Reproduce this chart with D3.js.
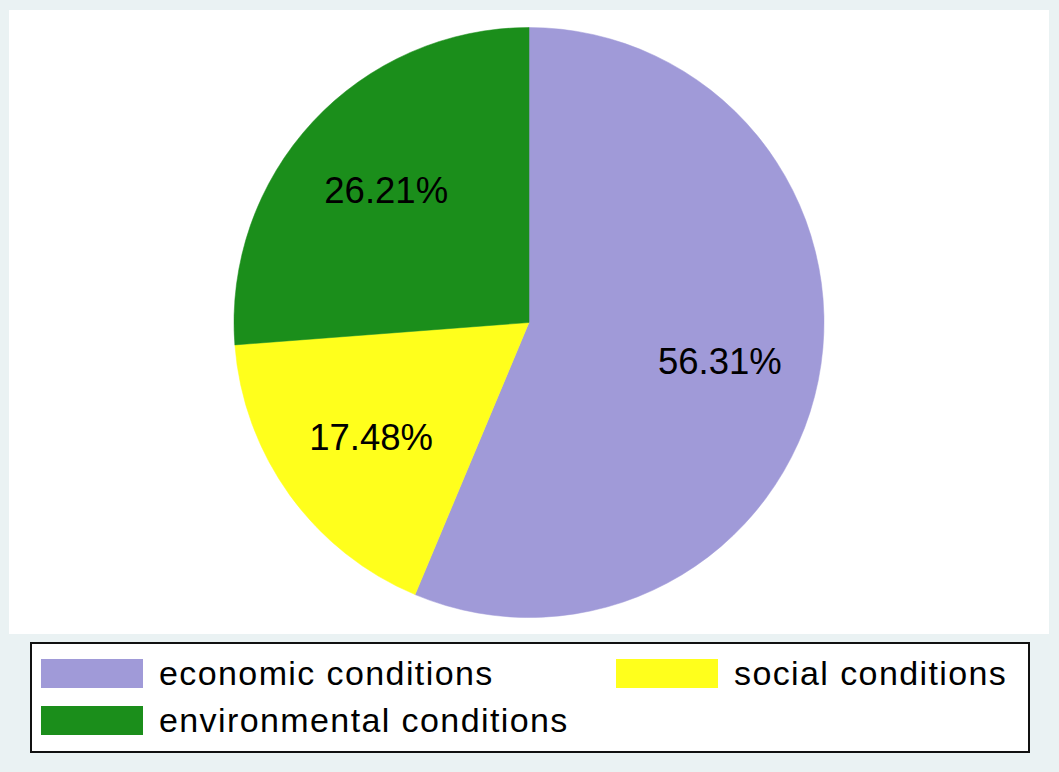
<!DOCTYPE html>
<html>
<head>
<meta charset="utf-8">
<script src="https://cdn.jsdelivr.net/npm/d3@7"></script>
<style>
  html, body { margin: 0; padding: 0; background: #eaf2f3; }
  svg { display: block; }
  text { font-family: "Liberation Sans", Arial, sans-serif; fill: #000; }
</style>
</head>
<body>
<div id="chart"></div>
<script>
var categories = ["economic conditions", "social conditions", "environmental conditions"];
var values = [56.31, 17.48, 26.21];
var colors = ["#a09ad8", "#ffff1c", "#1b8e1b"];

var width = 1059, height = 772;
var svg = d3.select("#chart").append("svg")
    .attr("width", width)
    .attr("height", height);

// background + plot region
svg.append("rect").attr("width", width).attr("height", height).attr("fill", "#eaf2f3");
svg.append("rect")
    .attr("x", 9).attr("y", 10)
    .attr("width", 1040).attr("height", 624)
    .attr("fill", "#ffffff");

var cx = 529, cy = 322.5, r = 295;
var g = svg.append("g").attr("transform", "translate(" + cx + "," + cy + ")");

var pie = d3.pie().sort(null).value(function(d){ return d; });
var arcs = pie(values);
var arc = d3.arc().innerRadius(0).outerRadius(r);
var labelArc = d3.arc().innerRadius(r * 0.66).outerRadius(r * 0.66);

g.selectAll("path.slice")
    .data(arcs)
    .enter().append("path")
    .attr("class", "slice")
    .attr("d", arc)
    .attr("fill", function(d, i){ return colors[i]; })
    .attr("stroke", function(d, i){ return colors[i]; })
    .attr("stroke-width", 0.5);

g.selectAll("text.pct")
    .data(arcs)
    .enter().append("text")
    .attr("class", "pct")
    .attr("transform", function(d){ return "translate(" + labelArc.centroid(d) + ")"; })
    .attr("text-anchor", "middle")
    .attr("dy", "0.36em")
    .style("font-size", "36.5px")
    .text(function(d){ return d3.format(".2f")(d.data) + "%"; });

// legend
var legend = svg.append("g");
legend.append("rect")
    .attr("x", 31).attr("y", 643)
    .attr("width", 998).attr("height", 109)
    .attr("fill", "#ffffff")
    .attr("stroke", "#111")
    .attr("stroke-width", 2);

var legendPos = [
    {x: 41, y: 659},
    {x: 616, y: 659},
    {x: 41, y: 706}
];
var item = legend.selectAll("g.item")
    .data(categories)
    .enter().append("g")
    .attr("class", "item")
    .attr("transform", function(d, i){ return "translate(" + legendPos[i].x + "," + legendPos[i].y + ")"; });
item.append("rect")
    .attr("width", 102).attr("height", 29)
    .attr("fill", function(d, i){ return colors[i]; });
item.append("text")
    .attr("x", 118).attr("y", 26)
    .style("font-size", "34px")
    .style("letter-spacing", "1.4px")
    .text(function(d){ return d; });
</script>
</body>
</html>
